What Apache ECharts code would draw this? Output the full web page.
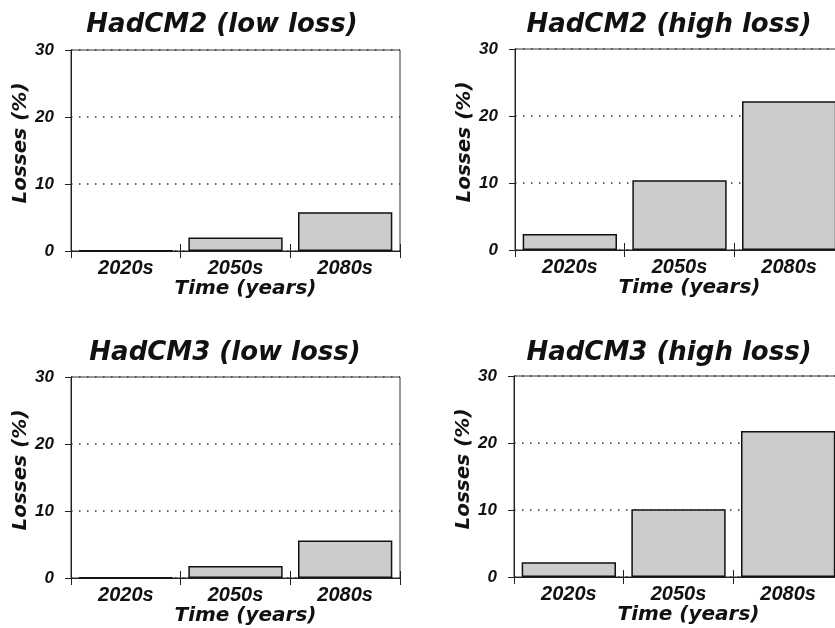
<!DOCTYPE html>
<html>
<head>
<meta charset="utf-8">
<script src="https://cdn.jsdelivr.net/npm/echarts@6/dist/echarts.min.js"></script>
<style>html,body{margin:0;padding:0;background:#fff;}#c{width:835px;height:628px;}</style>
</head>
<body>
<div id="c"></div>
<script>
// ---- data ----
const categories = ['2020s', '2050s', '2080s'];
const hadcm2Low  = [0.1, 2.0, 5.8];
const hadcm2High = [2.4, 10.4, 22.2];
const hadcm3Low  = [0.1, 1.8, 5.6];
const hadcm3High = [2.2, 10.1, 21.8];
const panelTitles = ['HadCM2 (low loss)', 'HadCM2 (high loss)', 'HadCM3 (low loss)', 'HadCM3 (high loss)'];
const yMin = 0, yMax = 30, yInterval = 10;
const xName = 'Time (years)';
const yName = 'Losses (%)';

const seriesData = [hadcm2Low, hadcm2High, hadcm3Low, hadcm3High];

// ---- layout ----
const grids = [
  {left: 71,  top: 50,  width: 329, height: 201},
  {left: 515, top: 49,  width: 329, height: 201},
  {left: 71,  top: 377, width: 329, height: 201},
  {left: 514, top: 376, width: 329, height: 201}
];
const titlePos = [[222, 25], [669, 25], [225, 353], [669, 353]];

const nameFont = {fontFamily: 'DejaVu Sans', fontWeight: 'bold', fontStyle: 'italic', fontSize: 20, color: '#111'};
const tickFont = {fontFamily: 'Liberation Sans', fontWeight: 'bold', fontStyle: 'italic', color: '#111'};

const option = {
  backgroundColor: '#fff',
  animation: false,
  grid: grids.map(g => Object.assign({show: true, borderColor: '#333', borderWidth: 1, backgroundColor: 'transparent', outerBoundsMode: 'none', containLabel: false}, g)),
  xAxis: [],
  yAxis: [],
  series: [],
  graphic: titlePos.map((p, i) => ({
    type: 'text', x: p[0], y: p[1], silent: true,
    style: {
      text: panelTitles[i],
      font: 'italic bold 26px "DejaVu Sans"',
      fill: '#111',
      textAlign: 'center', textVerticalAlign: 'middle',
      align: 'center', verticalAlign: 'middle'
    }
  }))
};

grids.forEach((g, i) => {
  option.xAxis.push({
    type: 'category', gridIndex: i, data: categories,
    axisLine: {show: true, lineStyle: {color: '#222', width: 1.2}},
    axisTick: {show: true, inside: false, length: 7, lineStyle: {color: '#222', width: 1}},
    axisLabel: Object.assign({fontSize: 20, margin: 7}, tickFont),
    name: xName, nameLocation: 'middle', nameGap: 26,
    nameTextStyle: Object.assign({padding: [0, 0, 0, 20]}, nameFont),
    splitLine: {show: false}
  });
  option.xAxis.push({
    type: 'category', gridIndex: i, data: categories, position: 'bottom',
    axisLine: {show: false},
    axisTick: {show: true, inside: true, length: 7, lineStyle: {color: '#222', width: 1}},
    axisLabel: {show: false},
    splitLine: {show: false}
  });
  option.yAxis.push({
    type: 'value', gridIndex: i, min: yMin, max: yMax, interval: yInterval,
    axisLine: {show: true, lineStyle: {color: '#222', width: 1}},
    axisTick: {show: true, inside: false, length: 6, lineStyle: {color: '#222', width: 1}},
    axisLabel: Object.assign({fontSize: 17, margin: 17}, tickFont),
    name: yName, nameLocation: 'middle', nameGap: 38, nameRotate: 90,
    nameTextStyle: Object.assign({padding: [0, 0, 0, 15]}, nameFont),
    splitLine: {show: true, lineStyle: {color: '#333', width: 1.5, type: [1.5, 6.5]}}
  });
  option.series.push({
    type: 'bar', xAxisIndex: i * 2, yAxisIndex: i,
    data: seriesData[i],
    barWidth: '86%',
    itemStyle: {color: '#cccccc', borderColor: '#111', borderWidth: 1.5},
    silent: true
  });
});

const chart = echarts.init(document.getElementById('c'), null, {renderer: 'canvas'});
chart.setOption(option);
</script>
</body>
</html>
